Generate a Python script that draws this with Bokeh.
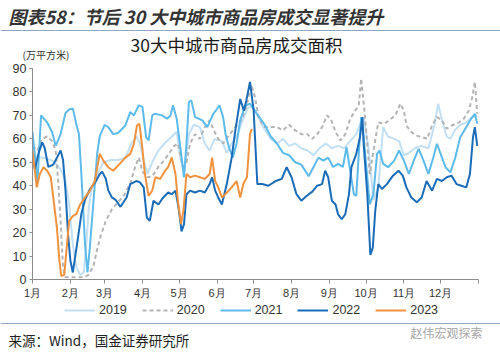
from bokeh.plotting import figure
from bokeh.layouts import column
from bokeh.models import (Range1d, FixedTicker, Label, Legend, LegendItem, Span, Plot)
from bokeh.embed import file_html
from bokeh.resources import INLINE

# ---------------- data (day of year, value in 万平方米) ----------------
month_ticks = [0, 31, 59, 90, 120, 151, 181, 212, 243, 273, 304, 334, 365]
month_labels = ["1月", "2月", "3月", "4月", "5月", "6月", "7月", "8月",
                "9月", "10月", "11月", "12月", ""]
y_ticks = [0, 10, 20, 30, 40, 50, 60, 70, 80, 90]

d19 = [0, 3, 8, 15, 20, 24, 27, 30, 33, 36, 39, 42, 44, 46, 48, 52, 58, 64, 70, 76,
       81, 85, 88, 91, 94, 98, 103, 108, 114, 118, 121, 124, 128, 132, 137, 141, 145,
       149, 155, 159, 163, 168, 172, 176, 180, 185, 190, 195, 200, 205, 210, 215, 220,
       225, 230, 235, 240, 245, 250, 255, 260, 265, 268, 271, 275, 279, 283, 287, 291,
       296, 300, 304, 308, 313, 318, 324, 329, 332, 335, 339, 342, 346, 350, 355, 359, 364]
v19 = [58, 52, 52, 51, 49, 46, 42, 32, 15, 5, 2, 3, 15, 30, 38, 44, 50, 51, 51, 52,
       58, 61, 58, 51, 45, 50, 55, 58, 61, 63, 52, 46, 62, 66, 65, 58, 55,
       60, 59, 54, 58, 62, 68, 73, 74, 69, 64, 60, 58, 60, 57, 58, 56,
       55, 53, 56, 58, 56, 57, 56, 59, 62, 66, 69, 56, 34, 39, 65, 61,
       60, 59, 53, 54, 56, 57, 56, 66, 75, 68, 61, 60, 64, 66, 67, 69, 70]

d20 = [0, 4, 8, 12, 16, 19, 21, 23, 25, 27, 32, 37, 42, 46, 50, 53, 56, 60, 65, 70,
       75, 80, 84, 87, 90, 94, 98, 103, 108, 112, 116, 119, 123, 126, 129, 133, 137,
       141, 145, 148, 152, 156, 160, 166, 171, 175, 179, 182, 185, 190, 195, 200, 205,
       210, 215, 220, 225, 229, 233, 237, 241, 244, 248, 252, 256, 260, 264, 267, 269,
       272, 276, 280, 283, 288, 292, 297, 301, 304, 306, 310, 314, 319, 323, 327, 331,
       335, 339, 343, 349, 353, 357, 360, 362, 364]
v20 = [57, 55, 60, 61, 59, 55, 42, 25, 5, 1, 1, 1, 1, 2, 6, 13, 19, 25, 30, 33,
       36, 41, 48, 52, 46, 43.6, 44, 48, 51, 54, 57, 58, 48, 50, 58, 62, 60,
       65, 68, 64, 60, 58, 61, 65, 68, 73.6, 83, 78, 69, 65, 65, 65, 63.6,
       66, 63.6, 62, 62, 60, 62, 65, 70, 68.6, 63, 59.3, 62, 68.6, 72, 74, 85.7,
       70, 45, 58, 67, 66.4, 68, 70, 75, 72, 65.7, 62.9, 61.4, 60.7, 60, 65.7, 69.3,
       67.9, 64.3, 65.7, 67, 68.6, 72, 77.9, 84.3, 70.7]

d21 = [0, 2, 4, 7, 12, 16, 19, 23, 27, 30, 33, 36, 38, 40, 43, 45, 47, 50, 53, 55,
       59, 62, 66, 70, 76, 80, 83, 87, 90, 93, 95, 98, 100, 106, 110, 113, 115, 118,
       121, 124, 126, 128, 130, 133, 139, 143, 148, 150, 153, 156, 158, 161, 164, 167,
       170, 174, 178, 182, 186, 190, 195, 200, 205, 210, 215, 220, 226, 230, 234, 238,
       242, 246, 250, 254, 257, 260, 263, 265, 267, 269, 271, 274, 276, 279, 282, 284,
       287, 291, 296, 300, 304, 308, 312, 316, 320, 324, 328, 331, 334, 338, 342, 346,
       350, 355, 359, 362, 364]
v21 = [63, 52, 41, 70, 67, 63, 57, 62, 71, 72.5, 73, 66, 62, 45, 15, 3, 14, 34, 54, 61,
       66, 65, 62, 62.5, 65.7, 71.4, 70, 74.3, 73.6, 60.7, 59.3, 70, 70.7, 70, 68.6, 70, 74.3, 68.6,
       56.4, 43.6, 58, 75.7, 76.4, 69.3, 67.9, 65, 70.7, 72, 74.3, 69.3, 62, 56, 52, 58,
       68, 74, 75, 72, 69, 66, 61, 58, 54, 53, 50, 49, 44, 48, 52, 50.7,
       52, 48, 49.3, 48, 56.4, 46.4, 36.4, 35.7, 53.6, 69.3, 60.7, 43.6, 32, 36.4, 53.6, 55,
       49.3, 47.9, 50.7, 55, 50.7, 45, 50.7, 55.7, 50.7, 45, 52, 57.9, 53.6, 47.9, 45.7, 52,
       60.7, 65, 68.6, 70.7, 66.4]

d22 = [0, 2, 5, 8, 10, 13, 17, 20, 23, 25, 27, 29, 31, 33, 35, 37, 40, 43, 47, 52,
       55, 57, 60, 62, 65, 68, 72, 77, 80, 85, 88, 91, 93.6, 96, 99, 103, 107, 111, 114,
       117, 119.5, 122, 124, 126, 129, 133, 137, 141, 145, 147, 149.5, 152, 155, 159, 163,
       166, 170, 173, 175, 178, 181, 184, 188, 193, 199, 204, 208, 212, 216, 220, 224,
       229, 233, 237, 239.5, 242, 245, 248, 250, 253, 256, 259, 261, 265, 268, 270, 271,
       274, 276.5, 278.5, 280.5, 283, 286, 290, 295, 299.5, 303, 306, 310, 314.5, 318.5,
       322.5, 327, 331, 335, 339, 343, 347, 351, 355, 358, 360.5, 362, 364]
v22 = [52, 47, 54, 58.5, 56, 48, 49, 52, 55, 51, 38, 20, 8, 3, 10, 17, 28, 34, 38.5, 42,
       45, 46, 43, 38, 35, 34, 31, 35, 40.7, 42, 41.4, 39.3, 26.4, 25, 33.6, 32, 35, 37.1, 36.4,
       37.9, 30.7, 20.5, 23.6, 36.4, 37.9, 37.1, 37.9, 37.1, 40.7, 43.6, 37.9, 35, 32, 40.7, 52,
       63.6, 77, 72, 76.4, 84.3, 72, 40.7, 40.7, 40, 42, 42.9, 47.9, 43.6, 36.4, 33.6, 35.5,
       37.5, 40, 40.7, 46.4, 43.6, 33.6, 32, 27.9, 25.7, 27.9, 36.4, 47.9, 53.6, 60.7, 69.3,
       57.9, 36.4, 10.5, 13.6, 29.3, 40.7, 38.6, 40.7, 44.3, 46.4, 44.3, 39.3, 35, 32.9, 35,
       42, 37.9, 42.9, 42, 43.6, 44.3, 40.7, 40, 39.3, 45, 60.7, 65, 57]

d23 = [0, 2, 3.5, 6, 9, 12, 15, 17, 20, 22, 23.5, 26, 28, 30, 33, 36, 39, 43, 47, 51,
       55, 58, 62, 66, 70, 76, 80, 83, 85.5, 87.5, 89.5, 92, 95, 98, 100.5, 104.5, 108.5,
       111, 114, 117, 119, 121.5, 123.5, 126, 129, 133, 137, 141, 145, 147, 149.5, 152,
       155, 159, 163, 167, 170, 172.5, 175.5, 178, 179.5]
v23 = [55, 46, 39.3, 45, 47.9, 46.4, 43.6, 35, 22, 8, 1.5, 2, 13.6, 25, 27, 28, 32, 35, 37.9, 42,
       53.6, 50.7, 47.9, 46.4, 48.6, 52, 53.6, 57.9, 65.7, 66.4, 57.9, 45, 35.7, 37.9, 43.6, 42.9, 46.4,
       47.9, 52, 45, 33.6, 23.6, 29.3, 45, 43.6, 44.3, 43.6, 42.9, 45, 52, 42, 39.3,
       35, 37, 39.3, 42, 35, 40.7, 43.6, 62, 64.3]

series = [("2019", d19, v19, "#c3dff4", None),
          ("2020", d20, v20, "#b4b4b4", "4 3"),
          ("2021", d21, v21, "#5cbbea", None),
          ("2022", d22, v22, "#1b6cb8", None),
          ("2023", d23, v23, "#f0923e", None)]

# ---------------- layout geometry (canvas pixels) ----------------
W = 500
TOP_H = 61            # header strip 0..61
MAIN_BOTTOM = 301     # main chart strip 61..301
FL, FR, FT, FB = 32, 478, 68, 279   # plot frame box in canvas pixels
CJK = "Noto Sans CJK SC"
HAS_ALIGN = "frame_align" in Plot.properties()


def style(f):
    f.outline_line_color = None
    f.background_fill_color = "white"
    f.border_fill_color = "white"
    if HAS_ALIGN:
        f.frame_align = False
    return f


def strip(height, y0):
    f = figure(width=W, height=height, output_backend="svg", toolbar_location=None,
               title=None, x_range=Range1d(0, W), y_range=Range1d(y0 + height, y0),
               x_axis_type=None, y_axis_type=None, min_border=0,
               min_border_left=0, min_border_right=0,
               min_border_top=0, min_border_bottom=0)
    return style(f)


# ---------------- header ----------------
top = strip(TOP_H, 0)
top.add_layout(Label(x=8, y=15, text="图表58：节后 30 大中城市商品房成交显著提升",
                     text_font=CJK, text_font_size="18px",
                     text_font_style="bold italic", text_color="#333333",
                     text_baseline="middle"))
top.add_layout(Span(location=30, dimension="width", line_color="#8fa7bf",
                    line_width=1.2))
top.add_layout(Label(x=236, y=44, text="30大中城市商品房成交面积",
                     text_font=CJK, text_font_size="17.5px", text_color="#1a1a1a",
                     text_align="center", text_baseline="middle"))
top.add_layout(Label(x=22, y=53.5, text="(万平方米)",
                     text_font=CJK, text_font_size="10px", text_color="#333333",
                     text_baseline="middle"))

# ---------------- main chart ----------------
p = figure(width=W, height=MAIN_BOTTOM - TOP_H, output_backend="svg",
           toolbar_location=None, title=None,
           x_range=Range1d(0, 365), y_range=Range1d(0, 90),
           min_border_left=FL, min_border_right=W - FR,
           min_border_top=FT - TOP_H, min_border_bottom=MAIN_BOTTOM - FB)
style(p)
p.xgrid.visible = False
p.ygrid.visible = False

for name, d, v, col, dash in series:
    kw = dict(line_color=col, line_width=2)
    if dash:
        kw["line_dash"] = dash
    p.line(d, v, **kw)

ax = p.xaxis[0]
ax.ticker = FixedTicker(ticks=month_ticks)
ax.major_label_overrides = {t: l for t, l in zip(month_ticks, month_labels)}
ax.minor_tick_line_color = None
ax.major_tick_in = 0
ax.major_tick_out = 4
ax.axis_line_color = "#8c8c8c"
ax.major_tick_line_color = "#8c8c8c"
ax.major_label_text_font = "Liberation Sans"
ax.major_label_text_font_size = "11px"
ax.major_label_text_color = "#333333"
ax.major_label_standoff = 3

ay = p.yaxis[0]
ay.ticker = FixedTicker(ticks=y_ticks)
ay.minor_tick_line_color = None
ay.major_tick_in = 0
ay.major_tick_out = 3
ay.axis_line_color = "#8c8c8c"
ay.major_tick_line_color = "#8c8c8c"
ay.major_label_text_font = "Liberation Sans"
ay.major_label_text_font_size = "12.5px"
ay.major_label_text_color = "#333333"
ay.major_label_standoff = 3

# ---------------- footer: legend, rule, source ----------------
bot = strip(353 - MAIN_BOTTOM, MAIN_BOTTOM)
items = []
nan = float("nan")
for name, d, v, col, dash in series:
    kw = dict(line_color=col, line_width=2)
    if dash:
        kw["line_dash"] = dash
    r = bot.line(x=[nan], y=[nan], **kw)      # swatch-only renderer for the legend
    items.append(LegendItem(label=name, renderers=[r]))
legend = Legend(items=items, orientation="horizontal",
                location=(64, 353 - 317),
                glyph_width=31, glyph_height=14, label_standoff=4, spacing=15,
                label_height=14, padding=0, margin=0, border_line_color=None,
                background_fill_alpha=0,
                label_text_font="Liberation Sans", label_text_font_size="12.5px",
                label_text_color="#333333")
bot.add_layout(legend, "center")
bot.add_layout(Span(location=323, dimension="width", line_color="#8fa7bf",
                    line_width=1.2))
bot.add_layout(Label(x=8, y=339, text="来源：Wind，国金证券研究所",
                     text_font=CJK, text_font_size="13.5px", text_color="#222222",
                     text_baseline="middle"))
bot.add_layout(Label(x=410, y=332, text="赵伟宏观探索",
                     text_font=CJK, text_font_size="12px", text_color="#a6a6a6",
                     text_baseline="middle"))

layout = column(top, p, bot, spacing=0)
open("out.html", "w").write(file_html(layout, INLINE))
